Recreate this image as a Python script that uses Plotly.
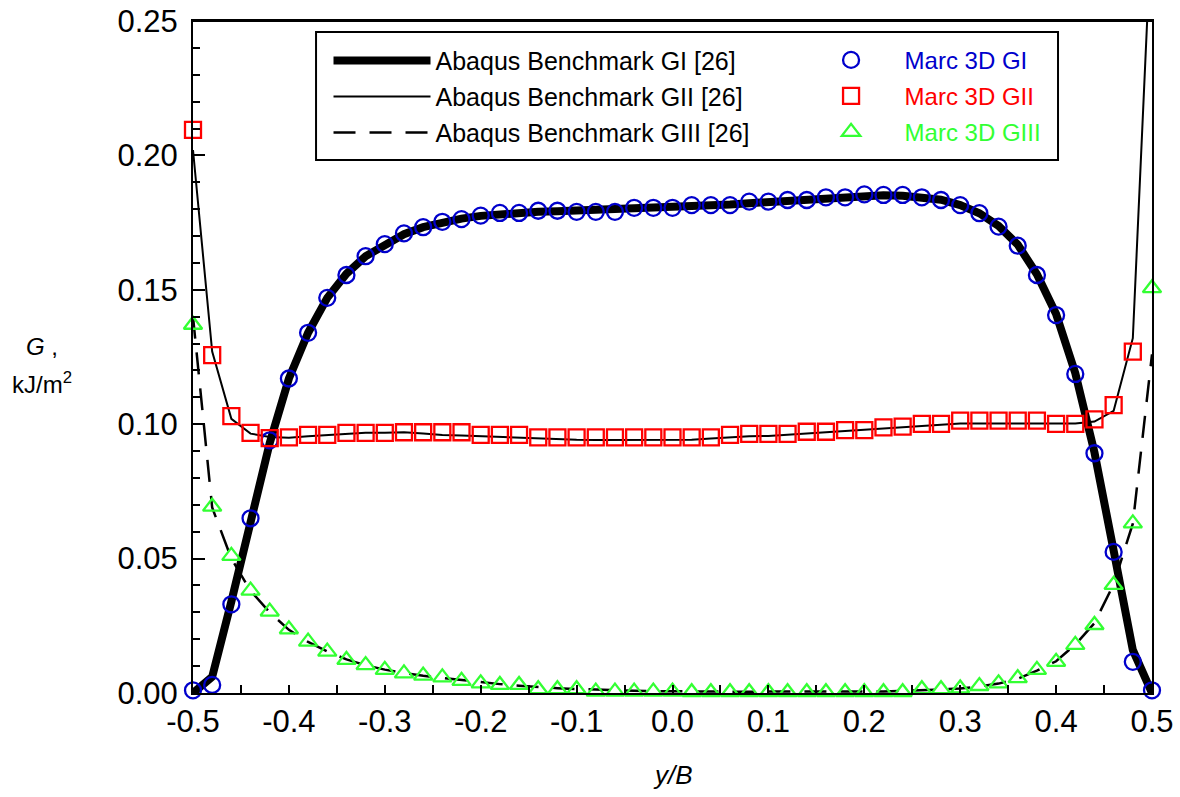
import plotly.graph_objects as go

# ---------------- data ----------------
y_over_B = [-0.50, -0.48, -0.46, -0.44, -0.42, -0.40, -0.38, -0.36, -0.34, -0.32,
            -0.30, -0.28, -0.26, -0.24, -0.22, -0.20, -0.18, -0.16, -0.14, -0.12,
            -0.10, -0.08, -0.06, -0.04, -0.02, 0.00, 0.02, 0.04, 0.06, 0.08,
            0.10, 0.12, 0.14, 0.16, 0.18, 0.20, 0.22, 0.24, 0.26, 0.28,
            0.30, 0.32, 0.34, 0.36, 0.38, 0.40, 0.42, 0.44, 0.46, 0.48, 0.50]

abaqus_GI = [0.0, 0.006, 0.034, 0.064, 0.093, 0.117, 0.134, 0.147, 0.156, 0.1625,
             0.167, 0.1707, 0.1733, 0.1752, 0.1765, 0.1775, 0.1782, 0.1787, 0.179, 0.1792,
             0.1794, 0.1796, 0.1798, 0.18, 0.1803, 0.1806, 0.1809, 0.1813, 0.1817, 0.1822,
             0.1827, 0.1832, 0.1837, 0.1842, 0.1847, 0.185, 0.1852, 0.185, 0.1845, 0.1835,
             0.1815, 0.1785, 0.1738, 0.1668, 0.1558, 0.141, 0.119, 0.0895, 0.053, 0.016, 0.0]

abaqus_GII = [0.202, 0.127, 0.102, 0.0965, 0.0952, 0.095, 0.0955, 0.096, 0.0965, 0.0968,
              0.0968, 0.097, 0.0965, 0.096, 0.0958, 0.0955, 0.0952, 0.095, 0.0948, 0.0945,
              0.0942, 0.0941, 0.0941, 0.0941, 0.0941, 0.0941, 0.0942, 0.0947, 0.0952, 0.0955,
              0.0956, 0.096, 0.0965, 0.097, 0.0975, 0.098, 0.0985, 0.099, 0.0995, 0.1,
              0.1003, 0.1003, 0.1003, 0.1003, 0.1003, 0.1003, 0.1003, 0.101, 0.105, 0.132, 0.29]

abaqus_GIII = [0.14, 0.069, 0.05, 0.038, 0.03, 0.0235, 0.019, 0.0155, 0.0125, 0.0103,
               0.0087, 0.0074, 0.0064, 0.0056, 0.0047, 0.004, 0.0033, 0.0027, 0.0022, 0.0018,
               0.0015, 0.0012, 0.001, 0.0008, 0.0007, 0.0006, 0.0005, 0.0005, 0.0005, 0.0005,
               0.0005, 0.0005, 0.0005, 0.0005, 0.0005, 0.0005, 0.0006, 0.0008, 0.001, 0.0013,
               0.0017, 0.0024, 0.0035, 0.0053, 0.0083, 0.0118, 0.018, 0.026, 0.0405, 0.063, 0.126]

marc_GI = [0.001, 0.003, 0.033, 0.065, 0.094, 0.117, 0.134, 0.147, 0.1555, 0.1625,
           0.167, 0.171, 0.1733, 0.1753, 0.1763, 0.1776, 0.1786, 0.1786, 0.1794, 0.1794,
           0.179, 0.179, 0.179, 0.1805, 0.1805, 0.1805, 0.1815, 0.1815, 0.1815, 0.1828,
           0.1828, 0.1834, 0.1834, 0.1844, 0.1844, 0.1855, 0.1853, 0.1853, 0.1844, 0.1834,
           0.1815, 0.1785, 0.1735, 0.1664, 0.1555, 0.1406, 0.1187, 0.0892, 0.0525, 0.0116, 0.001]

marc_GII = [0.2095, 0.1257, 0.103, 0.0968, 0.0948, 0.0951, 0.096, 0.096, 0.0968, 0.0968,
            0.0968, 0.097, 0.097, 0.097, 0.097, 0.096, 0.096, 0.096, 0.0951, 0.0951,
            0.0951, 0.0951, 0.0951, 0.0951, 0.0951, 0.0951, 0.0951, 0.0951, 0.096, 0.0964,
            0.0964, 0.0964, 0.0972, 0.0972, 0.0978, 0.0978, 0.0988, 0.0991, 0.1001, 0.1001,
            0.1013, 0.1013, 0.1013, 0.1013, 0.1013, 0.1001, 0.1001, 0.1018, 0.1071, 0.127, None]

marc_GIII = [0.137, 0.0693, 0.051, 0.0381, 0.0303, 0.0237, 0.0191, 0.0154, 0.0123, 0.0104,
             0.0086, 0.0073, 0.0065, 0.0058, 0.0045, 0.0036, 0.003, 0.003, 0.0014, 0.0014,
             0.0014, 0.0005, 0.0005, 0.0005, 0.0005, 0.0005, 0.0003, 0.0003, 0.0003, 0.0003,
             0.0003, 0.0003, 0.0003, 0.0003, 0.0003, 0.0003, 0.0003, 0.0003, 0.0014, 0.0014,
             0.0017, 0.0026, 0.0036, 0.0055, 0.0086, 0.0116, 0.0179, 0.0253, 0.0402, 0.0631, 0.1506]

x_tickvals = [-0.5, -0.4, -0.3, -0.2, -0.1, 0.0, 0.1, 0.2, 0.3, 0.4, 0.5]
x_ticktext = ["-0.5", "-0.4", "-0.3", "-0.2", "-0.1", "0.0", "0.1", "0.2", "0.3", "0.4", "0.5"]
y_tickvals = [0.00, 0.05, 0.10, 0.15, 0.20, 0.25]
y_ticktext = ["0.00", "0.05", "0.10", "0.15", "0.20", "0.25"]

names_lines = ["Abaqus Benchmark GI [26]", "Abaqus Benchmark GII [26]", "Abaqus Benchmark GIII [26]"]
names_marc = ["Marc 3D GI", "Marc 3D GII", "Marc 3D GIII"]

# ---------------- style ----------------
FONT = "Liberation Sans, Arial, Helvetica, sans-serif"
BLUE = "#0000cc"
RED = "#ff0000"
GREEN = "#33ff33"

fig = go.Figure()

line_styles = [dict(color="black", width=8),
               dict(color="black", width=2),
               dict(color="black", width=2.5, dash="22px,14px")]
for nm, ys, ls, grp in zip(names_lines, [abaqus_GI, abaqus_GII, abaqus_GIII], line_styles, ["a", "b", "c"]):
    fig.add_trace(go.Scatter(x=y_over_B, y=ys, mode="lines", name=nm, line=ls,
                             legend="legend", legendgroup=grp, cliponaxis=True))

marker_styles = [("circle-open", BLUE), ("square-open", RED), ("triangle-up-open", GREEN)]
for nm, ys, (sym, col), grp in zip(names_marc, [marc_GI, marc_GII, marc_GIII], marker_styles, ["d", "e", "f"]):
    fig.add_trace(go.Scatter(x=y_over_B, y=ys, mode="markers",
                             name=f"<span style='color:{col}'>{nm}</span>",
                             marker=dict(symbol=sym, size=16, color=col, line=dict(width=2.3, color=col)),
                             legend="legend2", legendgroup=grp, cliponaxis=False))

axis_common = dict(showgrid=False, zeroline=False, showline=True, linecolor="black", linewidth=2,
                   mirror=True, ticks="inside", tickcolor="black", tickwidth=2, automargin=False,
                   ticklabeloverflow="allow",
                   tickfont=dict(family=FONT, size=31, color="black"))

fig.update_xaxes(range=[-0.5, 0.5], tickvals=x_tickvals, ticktext=x_ticktext, ticklen=8,
                 minor=dict(dtick=0.05, ticks="inside", ticklen=8, tickwidth=2, tickcolor="black"),
                 ticklabelstandoff=0, **axis_common)
fig.update_yaxes(range=[0, 0.25], tickvals=y_tickvals, ticktext=y_ticktext, ticklen=12,
                 minor=dict(dtick=0.01, ticks="inside", ticklen=7, tickwidth=2, tickcolor="black"),
                 ticklabelstandoff=7, **axis_common)

fig.update_layout(
    width=1180, height=797,
    margin=dict(l=193, r=28, t=21, b=104, autoexpand=False),
    paper_bgcolor="white", plot_bgcolor="white",
    font=dict(family=FONT, color="black"),
    legend=dict(x=0.1413, y=0.975, xanchor="left", yanchor="top", bgcolor="rgba(0,0,0,0)",
                borderwidth=0, itemwidth=97, tracegroupgap=0.5,
                font=dict(family=FONT, size=25, color="black")),
    legend2=dict(x=0.6304, y=0.975, xanchor="left", yanchor="top", bgcolor="rgba(0,0,0,0)",
                 borderwidth=0, itemwidth=97, tracegroupgap=1.8,
                 font=dict(family=FONT, size=24, color="black")),
    shapes=[
        # legend frame
        dict(type="rect", xref="paper", yref="paper", x0=0.1283, x1=0.902, y0=0.7932, y1=0.9836,
             line=dict(color="black", width=2), fillcolor="white", layer="below"),
        # top edge of the plot frame
        dict(type="line", xref="paper", yref="paper", x0=0, x1=1, y0=1, y1=1,
             line=dict(color="black", width=2), layer="above"),
    ],
    annotations=[
        dict(text="<i>y/B</i>", xref="paper", yref="paper", x=0.5, y=-0.122, showarrow=False,
             xanchor="center", yanchor="middle", font=dict(family=FONT, size=26)),
        dict(text="<i>G</i> ,", xref="paper", yref="paper", x=-0.157, y=0.516, showarrow=False,
             xanchor="center", yanchor="middle", font=dict(family=FONT, size=24)),
        dict(text="kJ/m<sup>2</sup>", xref="paper", yref="paper", x=-0.157, y=0.462, showarrow=False,
             xanchor="center", yanchor="middle", font=dict(family=FONT, size=24)),
    ],
)

# remove the default 8 px page margin so the figure fills the window exactly
fig.write_html("out.html", config={"displayModeBar": False},
               post_script="document.body.style.margin='0';")
